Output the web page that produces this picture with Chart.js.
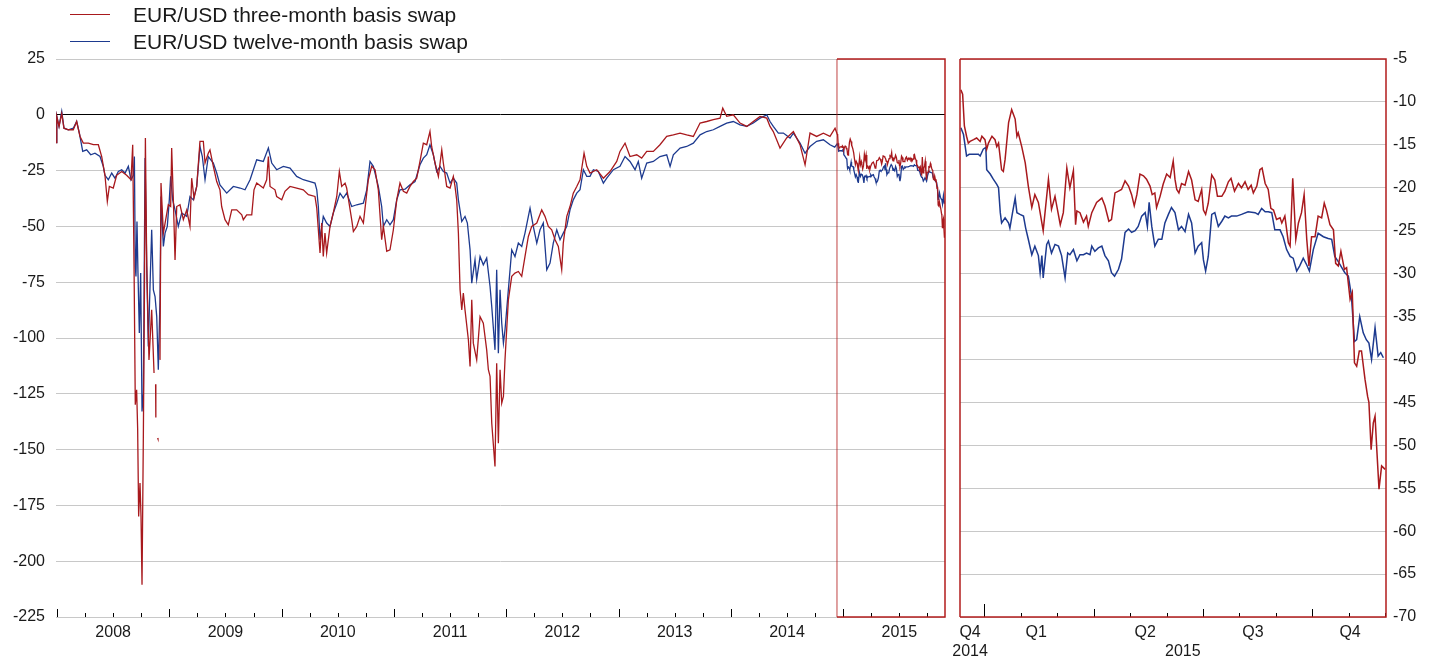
<!DOCTYPE html>
<html>
<head>
<meta charset="utf-8">
<script src="https://cdn.jsdelivr.net/npm/chart.js@4.4.1/dist/chart.umd.min.js"></script>
<style>
  body { margin: 0; background: #fff; }
  #wrap { position: relative; width: 1439px; height: 662px; font-family: "Liberation Sans", Arial, sans-serif; }
  #left { position: absolute; left: 0; top: 0; }
  #right { position: absolute; left: 930px; top: 0; }
  .swatch { position: absolute; left: 70px; width: 40px; height: 0; }
  .lbl { position: absolute; left: 133px; font-size: 21px; line-height: 24px; color: #1a1a1a; white-space: nowrap; }
</style>
</head>
<body>
<div id="wrap">
  <canvas id="left" width="952" height="662"></canvas>
  <canvas id="right" width="509" height="662"></canvas>
  <div class="swatch" style="top:14px;border-top:1.5px solid #a8191d"></div>
  <div class="lbl" style="top:3px">EUR/USD three-month basis swap</div>
  <div class="swatch" style="top:41px;border-top:1.5px solid #1d3a8f"></div>
  <div class="lbl" style="top:30px">EUR/USD twelve-month basis swap</div>
</div>
<script>
// dates are decimal years, values in basis points

const hist3mDates = [2007.991,2007.998,2008.018,2008.042,2008.062,2008.101,2008.145,2008.175,2008.205,2008.234,2008.279,2008.324,2008.368,2008.398,2008.427,2008.448,2008.466,2008.501,2008.531,2008.576,2008.620,2008.659,2008.674,2008.686,2008.697,2008.709,2008.718,2008.727,2008.739,2008.748,2008.757,2008.769,2008.778,2008.787,2008.799,2008.819,2008.843,2008.864,2008.870,2008.878,2008.880,2008.888,2008.896,2008.899,2008.906,2008.917,2008.926,2008.947,2008.991,2009.012,2009.021,2009.036,2009.051,2009.066,2009.095,2009.125,2009.155,2009.184,2009.199,2009.220,2009.244,2009.273,2009.303,2009.318,2009.347,2009.362,2009.392,2009.422,2009.451,2009.466,2009.496,2009.525,2009.556,2009.600,2009.645,2009.659,2009.689,2009.734,2009.754,2009.778,2009.837,2009.867,2009.882,2009.897,2009.941,2009.956,2010.001,2010.030,2010.075,2010.134,2010.193,2010.238,2010.297,2010.313,2010.342,2010.357,2010.371,2010.386,2010.401,2010.431,2010.460,2010.491,2010.514,2010.535,2010.565,2010.579,2010.624,2010.639,2010.669,2010.698,2010.728,2010.758,2010.772,2010.802,2010.832,2010.861,2010.891,2010.906,2010.936,2010.965,2010.995,2011.025,2011.054,2011.084,2011.114,2011.143,2011.173,2011.203,2011.232,2011.262,2011.292,2011.321,2011.336,2011.366,2011.396,2011.426,2011.440,2011.470,2011.500,2011.529,2011.544,2011.559,2011.574,2011.589,2011.604,2011.618,2011.633,2011.663,2011.678,2011.693,2011.707,2011.737,2011.767,2011.796,2011.826,2011.841,2011.856,2011.871,2011.900,2011.915,2011.930,2011.945,2011.960,2011.975,2011.989,2012.019,2012.049,2012.078,2012.108,2012.138,2012.167,2012.197,2012.227,2012.272,2012.316,2012.345,2012.375,2012.405,2012.435,2012.464,2012.494,2012.508,2012.539,2012.568,2012.597,2012.628,2012.657,2012.693,2012.717,2012.746,2012.806,2012.865,2012.924,2012.984,2013.013,2013.058,2013.102,2013.162,2013.206,2013.251,2013.310,2013.369,2013.429,2013.488,2013.548,2013.607,2013.666,2013.726,2013.785,2013.844,2013.904,2013.928,2013.963,2014.022,2014.082,2014.142,2014.200,2014.260,2014.320,2014.349,2014.378,2014.438,2014.497,2014.557,2014.616,2014.661,2014.705,2014.764,2014.824,2014.883,2014.928];
const hist3m = [-12.4,-0.7,-5.2,0.5,-6,-6.7,-6.7,-3,-9.7,-12.7,-12.7,-13.4,-13.4,-18.7,-27.1,-38.8,-32.1,-32.8,-27.1,-25.4,-27.1,-29.1,-13.4,-67.9,-129.9,-123.2,-140.4,-180,-165,-180,-210.6,-142.6,-82.9,-10.4,-67.9,-109.8,-87.4,-115.7,null,-120.7,-135.6,null,-144.8,-145.2,null,-109.8,-30.6,-53,-40.3,-41.1,-14.9,-38.1,-65,-41.1,-40.3,-47,-42.6,-50,-28.4,-37.3,-32.1,-11.9,-11.9,-21.6,-17.2,-15.7,-23.1,-29.9,-33.6,-41.1,-47,-49.3,-42.6,-42.6,-44.8,-47,-44.8,-44.8,-33.6,-30.6,-32.8,-29.1,-18.7,-32.1,-33.6,-36.6,-38.1,-34.3,-32.1,-32.8,-33.6,-35.8,-36.6,-41.8,-61.9,-48.5,-63.5,-53,-61.9,-50,-44,-36.6,-25.4,-32.1,-30.6,-32.8,-47,-52.3,-50,-45.5,-48.5,-35.1,-29.1,-23.1,-24.6,-33.6,-56,-50,-61.2,-60.5,-51.5,-38.1,-30.6,-34.3,-35.1,-32.1,-29.9,-28.4,-20.9,-12.7,-13.4,-7.5,-14.2,-21.6,-27.6,-15.7,-21.6,-32.1,-32.8,-27.6,-32.1,-38.1,-52.9,-78.4,-87.4,-79.9,-87.4,-100.8,-112.8,-82.9,-102.3,-109.8,-90.4,-93.4,-105.3,-114.2,-117.2,-138.1,-157.6,-111.3,-147.2,-114.2,-129.2,-126.2,-109.8,-82.9,-72.4,-70.9,-70.2,-72.4,-63.5,-54.5,-50,-48.5,-42.6,-45.5,-50,-51.5,-56,-59,-69.4,-57.5,-45.5,-41.1,-35.1,-32.1,-29.1,-17.2,-23.1,-26.1,-24.6,-28.4,-25.4,-20.9,-16.4,-12.7,-18.7,-17.9,-19.4,-16.4,-16.4,-13.4,-9.7,-9,-8.2,-9,-9.7,-3.7,-3,-2.2,-1.5,3,-0.7,0,-3.7,-5.2,-3,-0.7,-1.5,-5.2,-7.5,-14.9,-10.4,-7.5,-13.4,-22.4,-8.2,-9.7,-8.2,-9.7,-6];

const hist12mDates = [2007.991,2007.998,2008.018,2008.042,2008.062,2008.101,2008.145,2008.175,2008.199,2008.229,2008.264,2008.300,2008.338,2008.383,2008.412,2008.427,2008.457,2008.487,2008.516,2008.546,2008.576,2008.606,2008.635,2008.659,2008.680,2008.689,2008.697,2008.703,2008.712,2008.721,2008.733,2008.745,2008.757,2008.769,2008.784,2008.799,2008.813,2008.828,2008.843,2008.858,2008.873,2008.888,2008.902,2008.917,2008.926,2008.947,2008.962,2008.982,2009.000,2009.012,2009.030,2009.051,2009.080,2009.110,2009.155,2009.184,2009.214,2009.244,2009.273,2009.294,2009.318,2009.347,2009.392,2009.422,2009.451,2009.511,2009.570,2009.630,2009.674,2009.719,2009.778,2009.837,2009.882,2009.912,2009.956,2010.015,2010.075,2010.134,2010.193,2010.253,2010.297,2010.313,2010.327,2010.342,2010.371,2010.401,2010.431,2010.460,2010.491,2010.520,2010.549,2010.579,2010.624,2010.669,2010.728,2010.758,2010.787,2010.817,2010.861,2010.891,2010.906,2010.936,2010.965,2010.995,2011.025,2011.054,2011.099,2011.143,2011.188,2011.232,2011.262,2011.292,2011.321,2011.351,2011.381,2011.411,2011.440,2011.470,2011.500,2011.529,2011.559,2011.574,2011.604,2011.633,2011.654,2011.678,2011.693,2011.722,2011.737,2011.767,2011.796,2011.826,2011.856,2011.871,2011.900,2011.915,2011.930,2011.945,2011.960,2011.975,2011.989,2012.019,2012.049,2012.078,2012.108,2012.138,2012.167,2012.197,2012.212,2012.241,2012.272,2012.301,2012.330,2012.361,2012.390,2012.419,2012.450,2012.479,2012.508,2012.539,2012.568,2012.597,2012.628,2012.657,2012.687,2012.717,2012.746,2012.776,2012.820,2012.865,2012.895,2012.954,2013.013,2013.058,2013.102,2013.147,2013.176,2013.206,2013.251,2013.310,2013.369,2013.429,2013.459,2013.488,2013.548,2013.607,2013.666,2013.726,2013.785,2013.844,2013.904,2013.963,2014.022,2014.082,2014.142,2014.200,2014.260,2014.320,2014.349,2014.378,2014.423,2014.468,2014.527,2014.557,2014.616,2014.661,2014.705,2014.764,2014.824,2014.883,2014.925];
const hist12m = [-12.4,-0.7,-5.2,1.5,-6,-6.7,-6,-3,-8.2,-16.4,-15.7,-17.9,-17.2,-18.7,-23.1,-27.1,-29.1,-26.1,-28.4,-25.4,-24.6,-26.1,-23.1,-29.1,-27.1,-18.7,-67.9,-72.4,-47.8,-70.9,-97.8,-70.9,-132.9,-124.7,-19.4,-67.9,-103.8,-76.9,-51.5,-78.4,-81.4,-90.4,-114.2,-82.9,-36.6,-59,-53,-50,-38.1,-27.6,-38.1,-42.6,-50,-44,-45.5,-36.6,-38.1,-32.1,-14.2,-18.7,-29.1,-18.7,-21.6,-26.1,-31.4,-35.1,-32.1,-32.8,-33.6,-29.1,-20.2,-20.9,-14.9,-21.6,-24.6,-23.1,-23.9,-27.6,-29.1,-29.9,-30.6,-33.6,-41.1,-56,-45.5,-48.5,-50,-44,-39.6,-35.1,-37.3,-35.1,-41.1,-40.3,-39.6,-33.6,-20.9,-23.1,-32.1,-41.1,-50,-47,-49.3,-47,-38.1,-33.6,-33.3,-31.4,-29.9,-22.4,-19.4,-17.9,-13.4,-17.9,-25.4,-23.1,-25.4,-26.1,-30.6,-28.4,-30.6,-38.1,-47.8,-45.5,-48.5,-60.5,-75.4,-65,-73.7,-63.5,-67.2,-64.2,-76.9,-85.9,-105.3,-69.4,-106.8,-78.4,-93.4,-102.3,-96.4,-78.4,-60.5,-63.5,-57.5,-59,-53,-45.5,-41.8,-50,-57.5,-51.5,-48.5,-69.4,-66.4,-57.5,-51.5,-56,-53,-50,-42.6,-38.1,-35.1,-33.6,-24.6,-27.6,-27.6,-24.6,-25.4,-30.6,-28.4,-24.6,-23.1,-18.7,-20.9,-24.6,-20.9,-28.4,-21.6,-20.9,-18.7,-17.9,-23.1,-17.9,-14.9,-14.2,-12.7,-9,-7.5,-6.7,-5.2,-3.7,-3,-4.5,-5.2,-3.7,-1.5,0,-3,-5.2,-8.2,-8.2,-10.4,-8.2,-12.7,-17.2,-14.2,-11.9,-11.2,-13.4,-14.5];

// December 2014 onwards, shown in both panels
const recent3mDates = [2014.947,2014.951,2014.955,2014.960,2014.964,2014.968,2014.976,2014.983,2014.991,2014.995,2015.002,2015.006,2015.010,2015.018,2015.025,2015.029,2015.033,2015.040,2015.044,2015.048,2015.056,2015.063,2015.071,2015.075,2015.078,2015.086,2015.094,2015.101,2015.109,2015.116,2015.124,2015.128,2015.135,2015.147,2015.154,2015.162,2015.166,2015.174,2015.181,2015.189,2015.196,2015.204,2015.209,2015.212,2015.219,2015.227,2015.234,2015.238,2015.246,2015.257,2015.269,2015.276,2015.285,2015.291,2015.299,2015.307,2015.314,2015.322,2015.330,2015.337,2015.343,2015.349,2015.356,2015.364,2015.371,2015.379,2015.384,2015.390,2015.394,2015.402,2015.409,2015.417,2015.425,2015.432,2015.436,2015.440,2015.445,2015.451,2015.459,2015.467,2015.474,2015.482,2015.489,2015.497,2015.501,2015.506,2015.512,2015.520,2015.527,2015.533,2015.543,2015.550,2015.558,2015.564,2015.572,2015.581,2015.588,2015.596,2015.603,2015.610,2015.615,2015.623,2015.630,2015.635,2015.642,2015.649,2015.655,2015.661,2015.668,2015.676,2015.680,2015.687,2015.695,2015.699,2015.705,2015.712,2015.718,2015.725,2015.731,2015.737,2015.742,2015.748,2015.756,2015.763,2015.771,2015.777,2015.782,2015.790,2015.798,2015.803,2015.809,2015.815,2015.823,2015.828,2015.836,2015.841,2015.846,2015.851,2015.857,2015.862,2015.870,2015.876,2015.879,2015.884,2015.889,2015.893,2015.897,2015.902,2015.908,2015.916];
const recent3m = [-8.6,-9.1,-12.8,-14,-14.8,-14.6,-14.4,-14.2,-14.6,-14,-14.4,-15.5,-14.8,-14,-14.4,-15.2,-14.8,-17.9,-18.1,-16.7,-12.4,-10.9,-12,-14,-13.6,-15.2,-17.1,-19.8,-22.3,-20.8,-21.7,-22.9,-25,-19,-22.5,-21,-22.1,-24.3,-22.9,-17.7,-20,-18,-24.3,-22.7,-22.9,-24,-23.3,-24.5,-22.9,-21.7,-21.2,-22.1,-23.9,-23.7,-20.6,-20.4,-20.2,-19.2,-19.8,-20.8,-22.1,-20.8,-18.4,-18.6,-19,-19.8,-20.8,-20.6,-22.3,-21,-19.6,-18.4,-18.8,-16.9,-19,-20.2,-20.6,-19.5,-19.7,-18.1,-19.1,-21.4,-21.6,-20.2,-22.6,-23.1,-21.8,-18.5,-19.1,-21,-21,-20.4,-19.3,-18.9,-20.4,-19.5,-20,-19.3,-20.2,-19.7,-20.6,-19.8,-17.9,-17.7,-19.5,-20.2,-22.4,-22.6,-23.7,-23.5,-24.1,-23.3,-26.4,-26.8,-18.9,-26,-24.1,-22.9,-20.8,-26,-29.1,-25.7,-25.7,-23.3,-23.5,-21.8,-22.6,-24.3,-24.9,-28.8,-29.1,-27.4,-29.5,-29.3,-33,-32.2,-40.4,-40.8,-39,-39,-42.3,-44.3,-45,-50.5,-47.4,-46.6,-50.5,-55.1,-52.4,-52.8];

const recent12mDates = [2014.947,2014.953,2014.960,2014.966,2014.972,2014.979,2014.987,2014.991,2014.998,2015.004,2015.006,2015.014,2015.021,2015.029,2015.033,2015.037,2015.040,2015.048,2015.056,2015.059,2015.065,2015.071,2015.075,2015.082,2015.090,2015.095,2015.101,2015.109,2015.116,2015.124,2015.128,2015.132,2015.135,2015.143,2015.147,2015.154,2015.162,2015.170,2015.177,2015.185,2015.191,2015.196,2015.204,2015.212,2015.219,2015.227,2015.234,2015.242,2015.246,2015.253,2015.261,2015.269,2015.276,2015.284,2015.291,2015.298,2015.307,2015.314,2015.322,2015.330,2015.337,2015.345,2015.352,2015.360,2015.368,2015.373,2015.377,2015.383,2015.390,2015.398,2015.406,2015.413,2015.421,2015.428,2015.436,2015.444,2015.451,2015.459,2015.467,2015.474,2015.482,2015.489,2015.497,2015.501,2015.506,2015.512,2015.520,2015.527,2015.535,2015.543,2015.550,2015.558,2015.565,2015.577,2015.588,2015.603,2015.619,2015.626,2015.634,2015.642,2015.649,2015.657,2015.664,2015.676,2015.683,2015.691,2015.699,2015.706,2015.714,2015.721,2015.729,2015.737,2015.743,2015.752,2015.763,2015.775,2015.786,2015.794,2015.801,2015.809,2015.817,2015.824,2015.832,2015.839,2015.846,2015.851,2015.858,2015.866,2015.873,2015.879,2015.885,2015.893,2015.900,2015.906,2015.912];
const recent12m = [-13,-13.8,-16.3,-16.1,-16.1,-16.1,-16.1,-16.3,-15.5,-15.3,-17.9,-18.4,-19,-19.6,-20,-22.9,-24.1,-23.5,-24.1,-24.7,-22.9,-21.2,-22.9,-23.1,-23.3,-24.7,-26,-27.8,-26.8,-27.9,-29.9,-27.9,-30.5,-26.6,-26.2,-27.6,-26.6,-26.8,-27.9,-30.5,-27.6,-27.8,-27.2,-28.5,-27.8,-27.8,-27.6,-27.8,-26.8,-27.4,-27,-26.8,-27.9,-28.5,-29.9,-30.3,-29.5,-28.3,-25.2,-24.8,-25.2,-25,-24.5,-23.3,-22.9,-24.5,-21.7,-24.5,-26.8,-26,-26,-24.1,-23.1,-22.3,-22.9,-24.9,-24.5,-25.1,-23.1,-24.1,-27.6,-26.8,-26.4,-28.4,-29.7,-28,-23.1,-22.9,-24.5,-23.9,-23.3,-23.5,-23.3,-23.3,-23.1,-22.8,-22.9,-23.1,-22.4,-22.8,-22.8,-22.9,-24.9,-24.9,-25.7,-27.2,-28,-28.2,-29.7,-29.1,-28.2,-29,-29.7,-27.2,-25.3,-25.7,-25.9,-26,-28,-28.6,-29.3,-29.9,-30.3,-32.6,-37.9,-37.7,-35,-36.9,-37.7,-38.1,-40,-36.3,-39.6,-39.2,-39.8];

const yearLabelValues = [2008.5, 2009.5, 2010.5, 2011.5, 2012.5, 2013.5, 2014.5, 2015.5];
const yearLabels = ['2008', '2009', '2010', '2011', '2012', '2013', '2014', '2015'];
const quarterLabelValues = [2014.968, 2015.119, 2015.368, 2015.454, 2015.614, 2015.836];
const quarterLabels = [['Q4', '2014'], 'Q1', 'Q2', ['', '2015'], 'Q3', 'Q4'];

const zoomStart = 2014.945;
const RED = '#a8191d';
const BLUE = '#1d3a8f';
const BOX = 'rgb(178,28,28)';
const GRID = '#c8c8c8';

Chart.defaults.font.family = "'Liberation Sans', Arial, sans-serif";
Chart.defaults.font.size = 16;
Chart.defaults.color = '#1a1a1a';

function toPoints(xs, ys) {
  return xs.map((x, i) => ({ x: x, y: ys[i] }));
}

// quarter marks for the long panel, month marks for the zoomed one
const longMarks = [];
for (let y = 2008; y <= 2015; y++) {
  for (let q = 0; q < 4; q++) longMarks.push({ value: y + q / 4, len: q === 0 ? 8 : 4 });
}
const shortMarks = [];
for (let m = 0; m <= 12; m++) {
  shortMarks.push({ value: 2015 + m / 12, len: m === 0 ? 13 : (m % 3 === 0 ? 8 : 4) });
}

const tickMarks = {
  id: 'tickMarks',
  afterDatasetsDraw(chart, args, opts) {
    const { ctx, chartArea } = chart;
    const xs = chart.scales.x;
    ctx.save();
    ctx.strokeStyle = '#000';
    ctx.lineWidth = 1;
    opts.marks.forEach(m => {
      const px = Math.round(xs.getPixelForValue(m.value)) + 0.5;
      if (px <= chartArea.left + 1 || px > chartArea.right + 1) return;
      ctx.beginPath();
      ctx.moveTo(px, chartArea.bottom);
      ctx.lineTo(px, chartArea.bottom - m.len);
      ctx.stroke();
    });
    ctx.restore();
  }
};

const zoomBox = {
  id: 'zoomBox',
  afterDatasetsDraw(chart, args, opts) {
    const { ctx, chartArea } = chart;
    const x0 = opts.from != null ? chart.scales.x.getPixelForValue(opts.from) : chartArea.left;
    ctx.save();
    ctx.lineWidth = 1.5;
    ctx.strokeStyle = BOX;
    ctx.beginPath();
    ctx.moveTo(x0, chartArea.top);
    ctx.lineTo(chartArea.right, chartArea.top);
    ctx.lineTo(chartArea.right, chartArea.bottom);
    ctx.lineTo(x0, chartArea.bottom);
    ctx.stroke();
    ctx.strokeStyle = opts.from != null ? 'rgba(178,28,28,0.55)' : BOX;
    ctx.beginPath();
    ctx.moveTo(x0, chartArea.top);
    ctx.lineTo(x0, chartArea.bottom);
    ctx.stroke();
    ctx.restore();
  }
};

new Chart(document.getElementById('left'), {
  type: 'line',
  data: {
    datasets: [
      {
        label: 'EUR/USD three-month basis swap',
        data: toPoints(hist3mDates.concat(recent3mDates), hist3m.concat(recent3m)),
        borderColor: RED,
        borderWidth: 1.3,
        pointRadius: 0,
        spanGaps: false,
      },
      {
        label: 'EUR/USD twelve-month basis swap',
        data: toPoints(hist12mDates.concat(recent12mDates), hist12m.concat(recent12m)),
        borderColor: BLUE,
        borderWidth: 1.3,
        pointRadius: 0,
      },
    ],
  },
  options: {
    responsive: false,
    animation: false,
    layout: { padding: { top: 59, right: 7, left: 0, bottom: 0 } },
    plugins: {
      legend: { display: false },
      tooltip: { enabled: false },
      tickMarks: { marks: longMarks },
      zoomBox: { from: zoomStart },
    },
    scales: {
      x: {
        type: 'linear',
        min: 2007.991,
        max: 2015.907,
        afterBuildTicks: s => { s.ticks = yearLabelValues.map(v => ({ value: v })); },
        afterFit: s => { s.height = 45; },
        ticks: { autoSkip: false, maxRotation: 0, padding: -2, callback: (v, i) => yearLabels[i] },
        grid: { display: false },
        border: { display: false },
      },
      y: {
        min: -225,
        max: 25,
        afterFit: s => { s.width = 56; },
        ticks: { stepSize: 25, padding: 11 },
        grid: { color: c => (c.tick.value === 0 ? '#000' : GRID), drawTicks: false, lineWidth: 1 },
        border: { display: false },
      },
    },
  },
  plugins: [tickMarks, zoomBox],
});

new Chart(document.getElementById('right'), {
  type: 'line',
  data: {
    datasets: [
      {
        label: 'EUR/USD three-month basis swap',
        data: toPoints(recent3mDates, recent3m),
        borderColor: RED,
        borderWidth: 1.5,
        pointRadius: 0,
      },
      {
        label: 'EUR/USD twelve-month basis swap',
        data: toPoints(recent12mDates, recent12m),
        borderColor: BLUE,
        borderWidth: 1.5,
        pointRadius: 0,
      },
    ],
  },
  options: {
    responsive: false,
    animation: false,
    layout: { padding: { top: 59, right: 0, left: 30, bottom: 0 } },
    plugins: {
      legend: { display: false },
      tooltip: { enabled: false },
      tickMarks: { marks: shortMarks },
      zoomBox: { from: null },
    },
    scales: {
      x: {
        type: 'linear',
        min: zoomStart,
        max: 2015.918,
        afterBuildTicks: s => { s.ticks = quarterLabelValues.map(v => ({ value: v })); },
        afterFit: s => { s.height = 45; },
        ticks: { autoSkip: false, maxRotation: 0, padding: -2, callback: (v, i) => quarterLabels[i] },
        grid: { display: false },
        border: { display: false },
      },
      y: {
        position: 'right',
        min: -70,
        max: -5,
        afterFit: s => { s.width = 53; },
        ticks: { stepSize: 5, padding: 7 },
        grid: { color: GRID, drawTicks: false, lineWidth: 1 },
        border: { display: false },
      },
    },
  },
  plugins: [tickMarks, zoomBox],
});
</script>
</body>
</html>
